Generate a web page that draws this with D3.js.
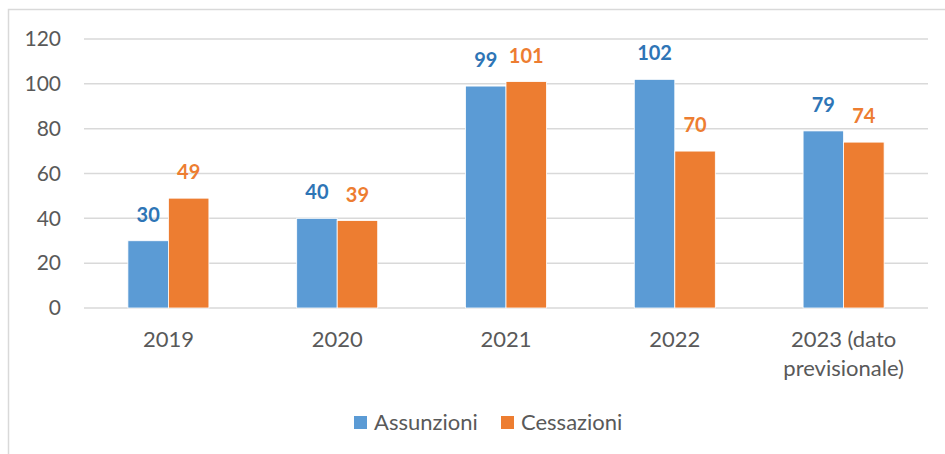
<!DOCTYPE html>
<html lang="it">

<head>
    <meta charset="UTF-8">
    <title>Assunzioni e cessazioni</title>
    <script src="https://d3js.org/d3.v7.min.js"></script>
    <style>
        body { margin: 0; background: #fff; }
        text { font-family: Lato, "Open Sans", sans-serif; }
    </style>
</head>

<body>
    <script>
        var categories = ["2019", "2020", "2021", "2022", "2023 (dato previsionale)"];
        var assunzioni = [30, 40, 99, 102, 79];
        var cessazioni = [49, 39, 101, 70, 74];
        var yTicks = [0, 20, 40, 60, 80, 100, 120];

        var series = [
            { name: "Assunzioni", values: assunzioni, color: "#5B9BD5", label: "#2E75B6" },
            { name: "Cessazioni", values: cessazioni, color: "#ED7D31", label: "#ED7D31" }
        ];

        var width = 945, height = 454;
        var margin = { top: 39, right: 17, bottom: 146, left: 84 };

        var svg = d3.select("body").append("svg")
            .attr("width", width)
            .attr("height", height);

        // chart frame (left and top edges visible)
        svg.append("path")
            .attr("d", "M8.5,454 V9.5 H945")
            .attr("fill", "none")
            .attr("stroke", "#d9d9d9")
            .attr("stroke-width", 1.5);

        var x = d3.scaleBand()
            .domain(categories)
            .range([margin.left, width - margin.right])
            .paddingInner(0.52)
            .paddingOuter(0.26);

        var x1 = d3.scaleBand()
            .domain(series.map(function (s) { return s.name; }))
            .range([0, x.bandwidth()]);

        var y = d3.scaleLinear()
            .domain([0, 120])
            .range([height - margin.bottom, margin.top]);

        // gridlines
        svg.append("g").selectAll("line")
            .data(yTicks)
            .enter().append("line")
            .attr("x1", margin.left)
            .attr("x2", width - margin.right)
            .attr("y1", function (d) { return y(d); })
            .attr("y2", function (d) { return y(d); })
            .attr("stroke", "#d9d9d9")
            .attr("stroke-width", 1.5);

        // y axis labels
        var yAxis = svg.append("g")
            .attr("transform", "translate(" + margin.left + ",0)")
            .call(d3.axisLeft(y).tickValues(yTicks).tickSize(0).tickPadding(23));
        yAxis.select(".domain").remove();
        yAxis.selectAll("text")
            .attr("fill", "#595959")
            .style("font-size", "21px");

        // bars
        var groups = svg.append("g").selectAll("g")
            .data(series)
            .enter().append("g");

        groups.selectAll("rect")
            .data(function (s) { return s.values.map(function (v, i) { return { s: s, v: v, c: categories[i] }; }); })
            .enter().append("rect")
            .attr("x", function (d) { return x(d.c) + x1(d.s.name); })
            .attr("y", function (d) { return y(d.v); })
            .attr("width", x1.bandwidth())
            .attr("height", function (d) { return y(0) - y(d.v); })
            .attr("fill", function (d) { return d.s.color; })
            .attr("stroke", "#fff")
            .attr("stroke-width", 0.8);

        groups.selectAll("text")
            .data(function (s) { return s.values.map(function (v, i) { return { s: s, v: v, c: categories[i] }; }); })
            .enter().append("text")
            .attr("x", function (d) { return x(d.c) + x1(d.s.name) + x1.bandwidth() / 2; })
            .attr("y", function (d) { return y(d.v) - 19; })
            .attr("text-anchor", "middle")
            .attr("fill", function (d) { return d.s.label; })
            .style("font-size", "20px")
            .style("font-weight", "bold")
            .text(function (d) { return d.v; });

        // category labels (wrapped)
        var catLines = {
            "2023 (dato previsionale)": ["2023 (dato", "previsionale)"]
        };
        var xLabels = svg.append("g").selectAll("text")
            .data(categories)
            .enter().append("text")
            .attr("x", function (d) { return x(d) + x.bandwidth() / 2; })
            .attr("y", 347)
            .attr("text-anchor", "middle")
            .attr("fill", "#595959")
            .style("font-size", "22px");
        xLabels.each(function (d) {
            var lines = catLines[d] || [d];
            var t = d3.select(this);
            lines.forEach(function (line, i) {
                t.append("tspan")
                    .attr("x", x(d) + x.bandwidth() / 2)
                    .attr("dy", i === 0 ? 0 : 29)
                    .text(line);
            });
        });

        // legend
        var legendX = [354, 501];
        var legend = svg.append("g").selectAll("g")
            .data(series)
            .enter().append("g")
            .attr("transform", function (d, i) { return "translate(" + legendX[i] + ",416)"; });
        legend.append("rect")
            .attr("width", 13)
            .attr("height", 13)
            .attr("fill", function (d) { return d.color; });
        legend.append("text")
            .attr("x", 20)
            .attr("y", 14)
            .attr("fill", "#595959")
            .style("font-size", "22px")
            .text(function (d) { return d.name; });
    </script>
</body>

</html>
